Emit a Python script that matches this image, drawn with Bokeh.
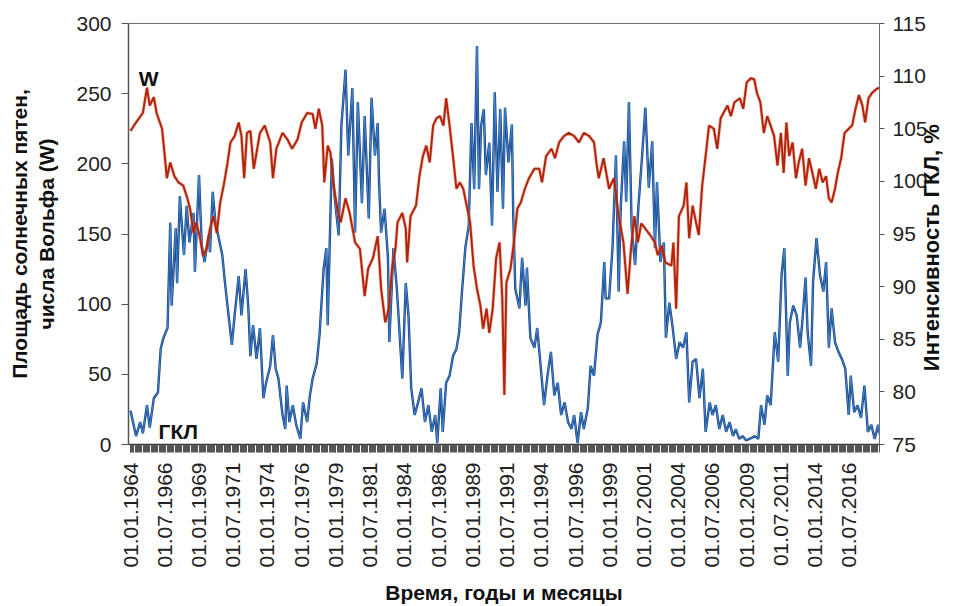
import math
from bokeh.plotting import figure
from bokeh.models import Range1d, LinearAxis, FixedTicker, Label, ColumnDataSource
from bokeh.embed import file_html
from bokeh.resources import INLINE

# ---------------- data ----------------
# Blue curve: sunspot (Wolf) numbers, left axis
w_years = [1964.0, 1964.4, 1964.7, 1964.9, 1965.2, 1965.4, 1965.7, 1966.0, 1966.2, 1966.4,
           1966.7, 1966.9, 1967.0, 1967.3, 1967.4, 1967.6, 1967.9, 1968.1, 1968.3, 1968.6,
           1968.7, 1969.0, 1969.2, 1969.4, 1969.7, 1969.8, 1970.0, 1970.2, 1970.4, 1970.7,
           1970.9, 1971.1, 1971.4, 1971.6, 1971.9, 1972.1, 1972.4, 1972.6, 1972.75, 1972.95,
           1973.2, 1973.45, 1973.7, 1973.9, 1974.2, 1974.4, 1974.6, 1974.8, 1975.1, 1975.3,
           1975.4, 1975.6, 1975.85, 1976.1, 1976.4, 1976.6, 1976.9, 1977.1, 1977.3, 1977.6,
           1977.8, 1978.1, 1978.3, 1978.4, 1978.7, 1978.9, 1979.2, 1979.4, 1979.7, 1979.9,
           1980.2, 1980.4, 1980.6, 1980.9, 1981.1, 1981.4, 1981.6, 1981.85, 1982.05, 1982.15,
           1982.3, 1982.55, 1982.8, 1982.9, 1983.2, 1983.45, 1983.7, 1983.85, 1984.1, 1984.3,
           1984.5, 1984.75, 1985.0, 1985.25, 1985.5, 1985.75, 1986.0, 1986.25, 1986.4, 1986.65,
           1986.8, 1987.05, 1987.3, 1987.55, 1987.8, 1988.0, 1988.2, 1988.45, 1988.7, 1988.9,
           1989.1, 1989.3, 1989.45, 1989.6, 1989.8, 1989.95, 1990.2, 1990.4, 1990.6, 1990.8,
           1991.0, 1991.2, 1991.35, 1991.6, 1991.85, 1991.95, 1992.1, 1992.4, 1992.6, 1992.85,
           1992.95, 1993.2, 1993.5, 1993.7, 1993.95, 1994.2, 1994.45, 1994.7, 1994.95, 1995.2,
           1995.45, 1995.7, 1995.95, 1996.2, 1996.4, 1996.65, 1996.9, 1997.1, 1997.4, 1997.6,
           1997.85, 1998.1, 1998.35, 1998.6, 1998.7, 1998.95, 1999.2, 1999.45, 1999.65, 1999.8,
           2000.05, 2000.2, 2000.4, 2000.6, 2000.85, 2001.1, 2001.35, 2001.6, 2001.85, 2002.1,
           2002.3, 2002.45, 2002.7, 2002.95, 2003.1, 2003.35, 2003.6, 2003.85, 2004.1, 2004.35,
           2004.6, 2004.8, 2005.05, 2005.3, 2005.55, 2005.8, 2006.0, 2006.3, 2006.5, 2006.75,
           2007.0, 2007.25, 2007.5, 2007.75, 2008.0, 2008.2, 2008.45, 2008.7, 2008.95, 2009.2,
           2009.45, 2009.6, 2009.85, 2010.05, 2010.3, 2010.5, 2010.75, 2011.05, 2011.3, 2011.55,
           2011.75, 2012.0, 2012.15, 2012.4, 2012.65, 2012.9, 2013.1, 2013.3, 2013.45, 2013.7,
           2013.85, 2014.1, 2014.35, 2014.6, 2014.8, 2015.0, 2015.2, 2015.45, 2015.7, 2015.95,
           2016.2, 2016.45, 2016.6, 2016.85, 2017.1, 2017.35, 2017.6, 2017.85, 2018.1, 2018.35,
           2018.6, 2018.75]
w_values = [24, 6, 16, 8, 28, 12, 33, 37, 68, 76,
            83, 158, 99, 154, 115, 177, 135, 170, 144, 165,
            123, 192, 142, 130, 149, 137, 180, 158, 149, 135,
            115, 97, 71, 92, 120, 92, 125, 98, 63, 85,
            61, 83, 33, 44, 56, 78, 54, 47, 21, 11,
            42, 16, 28, 14, 4, 30, 16, 35, 47, 58,
            78, 125, 140, 85, 204, 177, 149, 227, 267, 206,
            254, 151, 244, 172, 234, 161, 247, 206, 229, 187,
            151, 168, 133, 73, 140, 111, 71, 47, 115, 92,
            40, 21, 30, 40, 16, 28, 9, 21, 1, 40,
            9, 44, 49, 63, 68, 80, 108, 140, 156, 229,
            182, 284, 182, 227, 239, 192, 215, 156, 251, 180,
            239, 168, 240, 201, 228, 164, 111, 97, 133, 99,
            126, 76, 69, 83, 56, 28, 49, 66, 35, 44,
            21, 30, 16, 11, 21, 1, 23, 11, 26, 56,
            49, 78, 87, 130, 104, 104, 140, 206, 109, 169,
            216, 173, 244, 154, 128, 171, 204, 240, 183, 216,
            140, 187, 130, 144, 76, 101, 83, 61, 73, 69,
            80, 30, 59, 61, 33, 54, 9, 30, 21, 28,
            11, 21, 9, 16, 6, 11, 4, 6, 3, 4,
            5, 6, 4, 28, 14, 35, 28, 80, 59, 121,
            140, 49, 87, 99, 92, 69, 92, 119, 80, 56,
            116, 147, 121, 109, 130, 69, 97, 73, 66, 61,
            54, 21, 49, 23, 28, 19, 42, 9, 14, 4,
            14, 6]

# Red curve: galactic cosmic ray (ГКЛ) intensity, %, right axis
gcr_years = [1964.0, 1964.4, 1964.9, 1965.2, 1965.4, 1965.7, 1965.9, 1966.3, 1966.5, 1966.65,
             1966.9, 1967.2, 1967.5, 1967.85, 1968.1, 1968.35, 1968.6, 1968.8, 1969.05, 1969.3,
             1969.55, 1969.8, 1970.05, 1970.3, 1970.55, 1970.8, 1971.05, 1971.3, 1971.6, 1971.9,
             1972.1, 1972.3, 1972.5, 1972.75, 1973.0, 1973.45, 1973.8, 1974.2, 1974.4, 1974.65,
             1975.1, 1975.45, 1975.8, 1976.2, 1976.5, 1976.9, 1977.3, 1977.5, 1977.75, 1978.0,
             1978.15, 1978.4, 1978.6, 1978.8, 1979.1, 1979.35, 1979.7, 1980.0, 1980.4, 1980.75,
             1981.1, 1981.35, 1981.7, 1982.05, 1982.3, 1982.6, 1982.85, 1983.1, 1983.35, 1983.5,
             1983.85, 1984.1, 1984.2, 1984.45, 1984.85, 1985.1, 1985.35, 1985.6, 1985.85, 1986.1,
             1986.35, 1986.6, 1986.85, 1987.05, 1987.3, 1987.55, 1987.8, 1988.05, 1988.3, 1988.55,
             1988.8, 1989.05, 1989.3, 1989.55, 1989.75, 1990.0, 1990.2, 1990.45, 1990.7, 1990.95,
             1991.15, 1991.3, 1991.45, 1991.75, 1992.0, 1992.25, 1992.5, 1992.8, 1993.1, 1993.5,
             1993.85, 1994.05, 1994.35, 1994.75, 1995.0, 1995.3, 1995.65, 1996.0, 1996.4, 1996.75,
             1997.1, 1997.5, 1997.85, 1998.05, 1998.2, 1998.55, 1998.95, 1999.3, 1999.65, 2000.0,
             2000.3, 2000.55, 2000.8, 2001.05, 2001.3, 2001.6, 2001.95, 2002.3, 2002.5, 2002.8,
             2003.05, 2003.5, 2003.65, 2003.85, 2004.05, 2004.4, 2004.6, 2004.8, 2005.05, 2005.3,
             2005.5, 2005.75, 2006.0, 2006.25, 2006.6, 2006.85, 2007.1, 2007.3, 2007.6, 2007.85,
             2008.1, 2008.5, 2008.75, 2009.0, 2009.3, 2009.55, 2009.75, 2010.0, 2010.25, 2010.5,
             2010.75, 2011.0, 2011.25, 2011.5, 2011.7, 2011.9, 2012.1, 2012.35, 2012.6, 2012.8,
             2013.05, 2013.3, 2013.55, 2013.8, 2014.05, 2014.3, 2014.55, 2014.8, 2015.0, 2015.2,
             2015.45, 2015.65, 2015.9, 2016.15, 2016.45, 2016.7, 2016.95, 2017.2, 2017.45, 2017.65,
             2017.9, 2018.15, 2018.5, 2018.75]
gcr_values = [104.8, 105.6, 106.5, 108.9, 107.2, 108.0, 106.5, 105.0, 102.4, 100.3,
              101.8, 100.5, 99.9, 99.6, 98.6, 97.4, 95.1, 96.1, 94.8, 92.9,
              93.6, 95.5, 96.7, 95.1, 98.0, 99.6, 101.5, 103.7, 104.3, 105.6,
              104.3, 100.3, 104.6, 104.8, 101.2, 104.6, 105.3, 103.7, 100.3, 103.1,
              104.6, 104.0, 103.1, 104.0, 105.6, 106.5, 106.4, 105.0, 106.9, 105.3,
              99.9, 103.4, 102.7, 99.9, 97.4, 96.1, 98.4, 97.0, 94.2, 93.6,
              89.1, 91.7, 92.7, 94.8, 89.8, 86.6, 87.9, 91.7, 93.6, 96.1,
              97.0, 95.5, 92.3, 96.7, 97.7, 100.5, 102.4, 103.4, 101.8, 105.3,
              106.0, 106.2, 105.3, 107.9, 105.3, 102.4, 99.3, 99.9, 99.3, 97.7,
              96.1, 92.0, 89.8, 88.2, 86.0, 87.9, 85.6, 87.9, 92.7, 94.2,
              88.9, 79.7, 90.4, 91.7, 94.2, 97.4, 98.0, 99.3, 100.3, 101.2,
              101.2, 99.9, 102.4, 103.1, 102.2, 103.7, 104.3, 104.6, 104.3, 103.7,
              104.6, 104.3, 103.7, 101.5, 100.3, 102.2, 99.3, 100.3, 96.7, 94.2,
              89.3, 93.6, 96.7, 94.2, 96.0, 95.5, 94.9, 94.2, 93.0, 93.9,
              92.3, 92.0, 94.2, 87.9, 96.7, 97.7, 99.9, 94.6, 97.7, 96.1,
              94.9, 99.6, 102.4, 105.3, 105.0, 103.1, 106.0, 106.5, 107.2, 106.2,
              107.5, 107.9, 106.9, 109.4, 109.8, 109.7, 108.4, 107.5, 104.6, 106.2,
              105.3, 104.3, 101.5, 104.6, 100.8, 105.6, 102.4, 103.7, 100.3, 101.8,
              103.1, 99.6, 102.2, 100.8, 99.3, 101.2, 99.9, 100.5, 98.4, 98.0,
              99.3, 100.8, 102.2, 104.6, 105.0, 105.3, 106.9, 108.2, 107.2, 105.6,
              107.9, 108.4, 108.8, 108.9]

# tick labels (every 30 months)
tick_years = [1964.0, 1966.5, 1969.0, 1971.5, 1974.0, 1976.5, 1979.0, 1981.5, 1984.0, 1986.5, 1989.0,
              1991.5, 1994.0, 1996.5, 1999.0, 2001.5, 2004.0, 2006.5, 2009.0, 2011.5, 2014.0, 2016.5]
tick_labels = ["01.01.1964", "01.07.1966", "01.01.1969", "01.07.1971", "01.01.1974", "01.07.1976",
               "01.01.1979", "01.07.1981", "01.01.1984", "01.07.1986", "01.01.1989", "01.07.1991",
               "01.01.1994", "01.07.1996", "01.01.1999", "01.07.2001", "01.01.2004", "01.07.2006",
               "01.01.2009", "01.07.2011", "01.01.2014", "01.07.2016"]
w_ticks = [0, 50, 100, 150, 200, 250, 300]
gcr_ticks = [75, 80, 85, 90, 95, 100, 105, 110, 115]

# ---------------- figure ----------------
FONT = "Liberation Sans"
X0, X1 = 1963.85, 2018.70
p = figure(width=959, height=606, output_backend="svg", toolbar_location=None,
           x_range=Range1d(X0, X1), y_range=Range1d(0, 300),
           min_border_left=128, min_border_right=77, min_border_top=23, min_border_bottom=162,
           background_fill_color="white", border_fill_color="white")
p.outline_line_color = "#707070"
p.outline_line_width = 1
p.xgrid.grid_line_color = None
p.ygrid.grid_line_color = None

p.extra_y_ranges = {"gcr": Range1d(75, 115)}

n = min(len(w_years), len(w_values))
src_w = ColumnDataSource(dict(x=w_years[:n], y=w_values[:n]))
m = min(len(gcr_years), len(gcr_values))
src_g = ColumnDataSource(dict(x=gcr_years[:m], y=gcr_values[:m]))

# blue (two-tone stroke)
p.line("x", "y", source=src_w, line_color="#1c3f7c", line_width=2.4)
p.line("x", "y", source=src_w, line_color="#3f8fe0", line_width=0.9)
# red
p.line("x", "y", source=src_g, y_range_name="gcr", line_color="#e0735a", line_width=3.4, line_alpha=0.45)
p.line("x", "y", source=src_g, y_range_name="gcr", line_color="#b3240b", line_width=2.0)

# x axis
minor = [1964 + k / 12.0 for k in range(0, 657)]
xa = p.xaxis[0]
xa.ticker = FixedTicker(ticks=tick_years, minor_ticks=minor)
xa.major_label_overrides = {t: s for t, s in zip(tick_years, tick_labels)}
xa.major_label_orientation = math.pi / 2
xa.major_tick_out = 8
xa.major_tick_in = 0
xa.minor_tick_out = 8
xa.minor_tick_in = 0
xa.major_tick_line_color = "#333333"
xa.minor_tick_line_color = "#555555"
xa.axis_line_color = "#333333"
xa.axis_line_width = 1.5
xa.major_label_standoff = 10
xa.major_label_text_font = FONT
xa.major_label_text_font_size = "21px"
xa.major_label_text_color = "#222222"
xa.axis_label = "Время, годы и месяцы"
xa.axis_label_text_font = FONT
xa.axis_label_text_font_style = "bold"
xa.axis_label_text_font_size = "21px"
xa.axis_label_text_color = "#111111"
xa.axis_label_standoff = 10

# left axis
ya = p.yaxis[0]
ya.ticker = FixedTicker(ticks=w_ticks)
ya.major_tick_out = 7
ya.major_tick_in = 0
ya.minor_tick_line_color = None
ya.major_tick_line_color = "#555555"
ya.axis_line_color = "#555555"
ya.axis_line_width = 1.5
ya.major_label_standoff = 10
ya.major_label_text_font = FONT
ya.major_label_text_font_size = "21px"
ya.major_label_text_color = "#222222"
ya.axis_label = "Площадь солнечных пятен,\nчисла Вольфа (W)"
ya.axis_label_text_font = FONT
ya.axis_label_text_font_style = "bold"
ya.axis_label_text_font_size = "21px"
ya.axis_label_text_color = "#111111"
ya.axis_label_standoff = 15

# right axis; its title reads bottom-to-top, starting ~72 px above the frame bottom
ra = LinearAxis(y_range_name="gcr", ticker=FixedTicker(ticks=gcr_ticks))
ra.major_tick_out = 5
ra.major_tick_in = 0
ra.minor_tick_line_color = None
ra.major_tick_line_color = "#555555"
ra.axis_line_color = "#707070"
ra.major_label_standoff = 8
ra.major_label_text_font = FONT
ra.major_label_text_font_size = "21px"
ra.major_label_text_color = "#222222"
ra.axis_label = "\u00a0" * 12 + "Интенсивность ГКЛ, %"
ra.axis_label_text_font = FONT
ra.axis_label_text_font_style = "bold"
ra.axis_label_text_font_size = "22px"
ra.axis_label_text_color = "#111111"
ra.axis_label_standoff = 1
try:
    ra.axis_label_orientation = math.pi / 2
except Exception:
    pass
try:
    ra.axis_label_align = "start"
except Exception:
    pass
p.add_layout(ra, "right")

# curve labels
p.add_layout(Label(x=1964.6, y=261, text="W", text_font=FONT, text_font_style="bold",
                   text_font_size="21px", text_color="#111111", text_baseline="alphabetic"))
p.add_layout(Label(x=1966.05, y=9, text="ГКЛ", text_font=FONT, text_font_style="bold",
                   text_font_size="21px", text_color="#111111", text_baseline="alphabetic"))

open("out.html", "w").write(file_html(p, INLINE))
